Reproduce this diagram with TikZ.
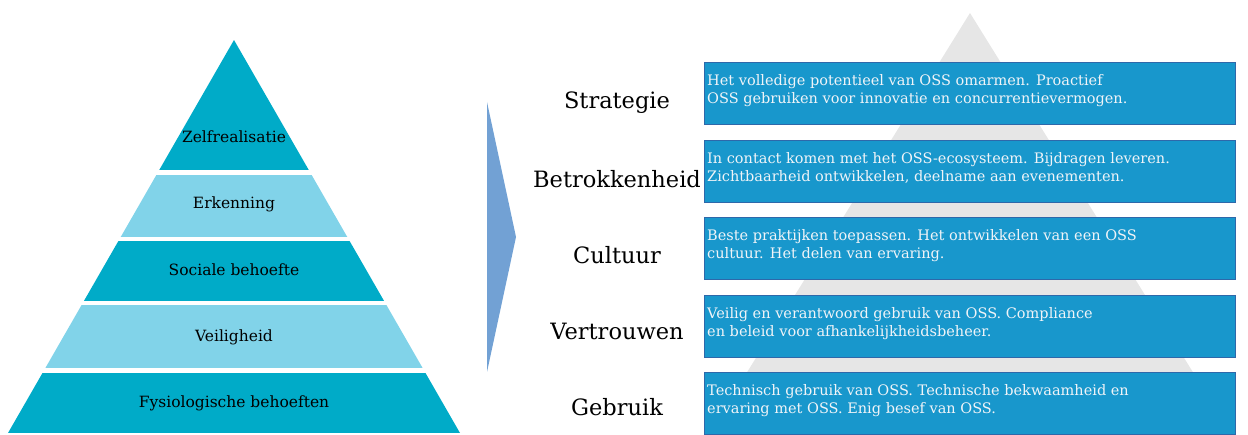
\documentclass[tikz,border=0pt]{standalone}
\usepackage{fontspec}
\setmainfont{DejaVu Serif}
\usetikzlibrary{positioning}

\definecolor{layerdark}{RGB}{0,171,200}
\definecolor{layerlight}{RGB}{129,211,233}
\definecolor{chevron}{RGB}{114,161,212}
\definecolor{ghost}{RGB}{230,230,230}
\definecolor{boxfill}{RGB}{24,151,204}
\definecolor{boxline}{RGB}{46,104,170}
\definecolor{boxtext}{RGB}{240,244,248}

\tikzset{
  layerlabel/.style={font=\fontsize{15.5}{18}\selectfont, text=black},
  levellabel/.style={font=\fontsize{22.5}{26}\selectfont, text=black},
  ossbox/.style={draw=boxline, line width=0.8pt, fill=boxfill, anchor=north west,
    minimum width=531pt, minimum height=62pt, inner sep=0pt},
  ossboxtext/.style={anchor=north west, align=left, text=boxtext, inner sep=0pt,
    font=\fontsize{14.5}{18}\selectfont},
}

\begin{document}
\begin{tikzpicture}[x=1pt, y=-1pt]
  \useasboundingbox (0,0) rectangle (1248,435);

  % grey pyramid behind the boxes
  \fill[ghost] (970,13) -- (1235,440) -- (705,440) -- cycle;

  % Maslow pyramid
  \begin{scope}
    \clip (234,40) -- (460,433) -- (8,433) -- cycle;
    \fill[layerdark]  (0,40)  rectangle (470,170);
    \fill[layerlight] (0,175) rectangle (470,237);
    \fill[layerdark]  (0,241) rectangle (470,301);
    \fill[layerlight] (0,305) rectangle (470,368);
    \fill[layerdark]  (0,373) rectangle (470,433);
  \end{scope}
  \node[layerlabel] (zelf) at (234,137) {Zelfrealisatie};
  \node[layerlabel] (erk)  at (234,204) {Erkenning};
  \node[layerlabel] (soc)  at (234,270) {Sociale behoefte};
  \node[layerlabel] (veil) at (234,337) {Veiligheid};
  \node[layerlabel] (fys)  at (234,403) {Fysiologische behoeften};

  % chevron
  \fill[chevron] (487,102) -- (516,237) -- (487,372) -- cycle;

  % levels
  \node[levellabel] (strat) at (617,103) {Strategie};
  \node[levellabel] (betr)  at (617,179) {Betrokkenheid};
  \node[levellabel] (cult)  at (617,255) {Cultuur};
  \node[levellabel] (vert)  at (617,331) {Vertrouwen};
  \node[levellabel] (gebr)  at (617,407) {Gebruik};

  % description boxes
  \foreach \y/\name/\txt in {
    62/box1/{Het volledige potentieel van OSS omarmen. Proactief\\OSS gebruiken voor innovatie en concurrentievermogen.},
    140/box2/{In contact komen met het OSS-ecosysteem. Bijdragen leveren.\\Zichtbaarheid ontwikkelen, deelname aan evenementen.},
    217/box3/{Beste praktijken toepassen. Het ontwikkelen van een OSS\\cultuur. Het delen van ervaring.},
    295/box4/{Veilig en verantwoord gebruik van OSS. Compliance\\en beleid voor afhankelijkheidsbeheer.},
    372/box5/{Technisch gebruik van OSS. Technische bekwaamheid en\\ervaring met OSS. Enig besef van OSS.}} {
    \node[ossbox] (\name) at (704,\y) {};
    \node[ossboxtext] at ([xshift=3pt, yshift=-12pt]\name.north west) {\txt};
  }
\end{tikzpicture}
\end{document}
